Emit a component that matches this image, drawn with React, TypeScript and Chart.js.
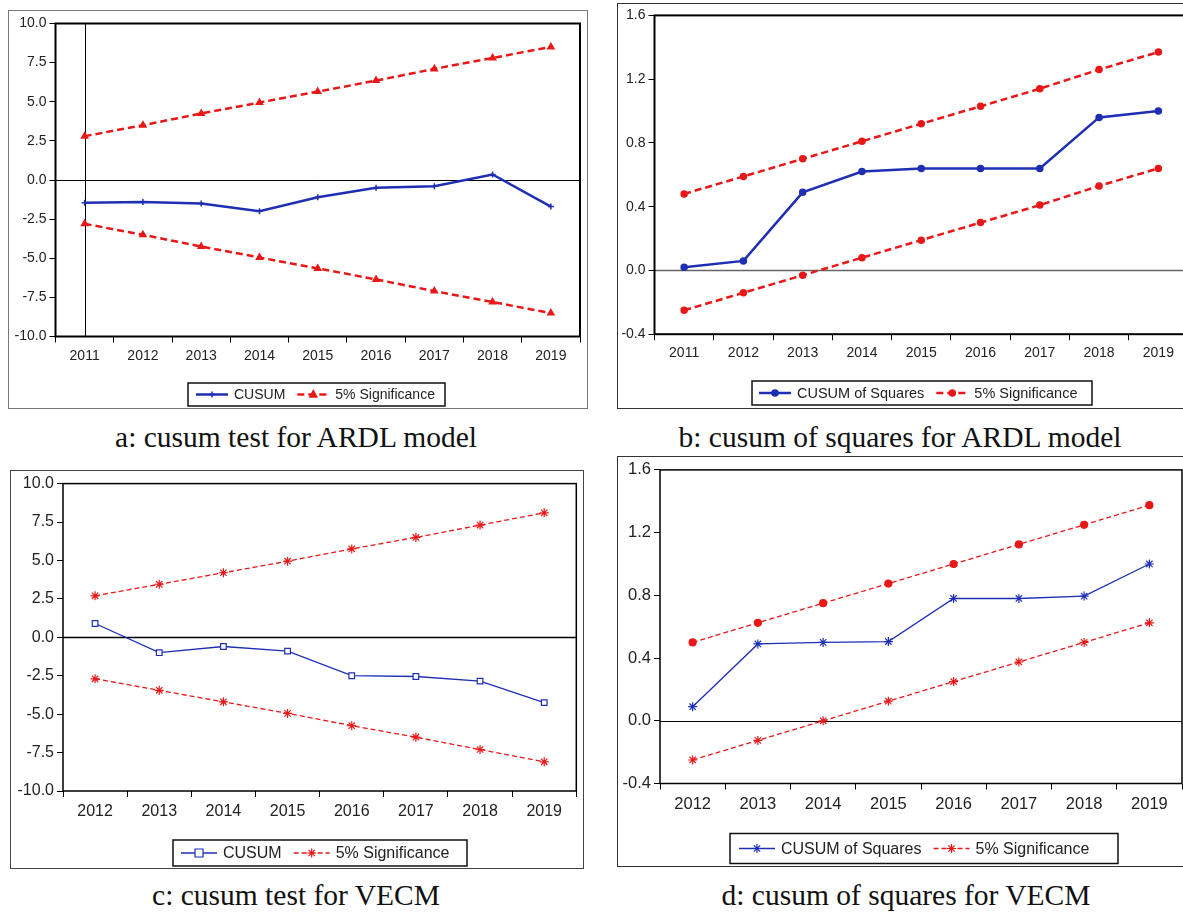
import React, { useEffect, useRef } from "react";
import { Chart, registerables } from "chart.js";
Chart.register(...registerables);

// ---------- data ----------
const yearsA = ["2011", "2012", "2013", "2014", "2015", "2016", "2017", "2018", "2019"];
const cusumA = [-1.45, -1.4, -1.5, -2.0, -1.1, -0.5, -0.4, 0.35, -1.7];
const sigUpA = [2.8, 3.5, 4.25, 4.95, 5.65, 6.35, 7.1, 7.8, 8.5];
const sigLoA = [-2.8, -3.5, -4.25, -4.95, -5.65, -6.35, -7.1, -7.8, -8.5];

const yearsB = ["2011", "2012", "2013", "2014", "2015", "2016", "2017", "2018", "2019"];
const cusumSqB = [0.02, 0.06, 0.49, 0.62, 0.64, 0.64, 0.64, 0.96, 1.0];
const sigUpB = [0.48, 0.59, 0.7, 0.81, 0.92, 1.03, 1.14, 1.26, 1.37];
const sigLoB = [-0.25, -0.14, -0.03, 0.08, 0.19, 0.3, 0.41, 0.53, 0.64];

const yearsC = ["2012", "2013", "2014", "2015", "2016", "2017", "2018", "2019"];
const cusumC = [0.9, -1.0, -0.6, -0.9, -2.5, -2.55, -2.85, -4.25];
const sigUpC = [2.7, 3.45, 4.2, 4.95, 5.75, 6.5, 7.3, 8.1];
const sigLoC = [-2.7, -3.45, -4.2, -4.95, -5.75, -6.5, -7.3, -8.1];

const yearsD = ["2012", "2013", "2014", "2015", "2016", "2017", "2018", "2019"];
const cusumSqD = [0.09, 0.49, 0.5, 0.505, 0.78, 0.78, 0.795, 1.0];
const sigUpD = [0.5, 0.625, 0.75, 0.875, 1.0, 1.125, 1.25, 1.375];
const sigLoD = [-0.25, -0.125, 0.0, 0.125, 0.25, 0.375, 0.5, 0.625];

const BLUE = "#1e2fb4";
const RED = "#e81818";
const SANS = "'Liberation Sans', Arial, sans-serif";

function drawMarker(ctx: CanvasRenderingContext2D, style: string, x: number, y: number, r: number, fill: string, stroke: string, lw: number) {
  ctx.save();
  ctx.setLineDash([]);
  ctx.fillStyle = fill;
  ctx.strokeStyle = stroke;
  ctx.lineWidth = lw;
  ctx.beginPath();
  if (style === "circle") {
    ctx.arc(x, y, r, 0, Math.PI * 2);
    ctx.fill();
    ctx.stroke();
  } else if (style === "triangle") {
    ctx.moveTo(x, y - r * 1.1);
    ctx.lineTo(x + r, y + r * 0.7);
    ctx.lineTo(x - r, y + r * 0.7);
    ctx.closePath();
    ctx.fill();
    ctx.stroke();
  } else if (style === "rect") {
    ctx.rect(x - r, y - r, 2 * r, 2 * r);
    ctx.fill();
    ctx.stroke();
  } else if (style === "star") {
    const d = r * 0.707;
    ctx.moveTo(x - r, y); ctx.lineTo(x + r, y);
    ctx.moveTo(x, y - r); ctx.lineTo(x, y + r);
    ctx.moveTo(x - d, y - d); ctx.lineTo(x + d, y + d);
    ctx.moveTo(x - d, y + d); ctx.lineTo(x + d, y - d);
    ctx.stroke();
  } else if (style === "cross") {
    ctx.moveTo(x - r, y); ctx.lineTo(x + r, y);
    ctx.moveTo(x, y - r); ctx.lineTo(x, y + r);
    ctx.stroke();
  }
  ctx.restore();
}

type LegendItem = { label: string; ds: number; marker: string; r: number; fill: string };
type PanelCfg = {
  frame: { left: number; top: number; width: number; height: number; color: string; bw: number };
  yWidth: number;
  padTop: number;
  padRight: number;
  xHeight: number;
  labels: string[];
  datasets: any[];
  yMin: number;
  yMax: number;
  yStep: number;
  fontSize: number;
  plotBorder: number;
  zeroColor: string;
  zeroWidth: number;
  vline?: number;
  legend: { x: number; y: number; w: number; h: number; font: number; items: LegendItem[]; padX: number; sample: number };
};

function Panel({ cfg }: { cfg: PanelCfg }) {
  const ref = useRef<HTMLCanvasElement | null>(null);
  useEffect(() => {
    if (!ref.current) return;
    const overlay = {
      id: "overlay",
      beforeDatasetsDraw(chart: any) {
        const { ctx, chartArea, scales } = chart;
        ctx.save();
        const y0 = Math.round(scales.y.getPixelForValue(0)) + 0.5;
        ctx.strokeStyle = cfg.zeroColor;
        ctx.lineWidth = cfg.zeroWidth;
        ctx.beginPath();
        ctx.moveTo(chartArea.left, y0);
        ctx.lineTo(chartArea.right, y0);
        ctx.stroke();
        if (cfg.vline !== undefined) {
          const xv = Math.round(scales.x.getPixelForValue(cfg.vline)) + 0.5;
          ctx.strokeStyle = "#000";
          ctx.lineWidth = 1;
          ctx.beginPath();
          ctx.moveTo(xv, chartArea.top);
          ctx.lineTo(xv, chartArea.bottom);
          ctx.stroke();
        }
        ctx.restore();
      },
      afterDraw(chart: any) {
        const { ctx, chartArea } = chart;
        ctx.save();
        ctx.strokeStyle = "#000";
        ctx.lineWidth = cfg.plotBorder;
        ctx.strokeRect(chartArea.left, chartArea.top, chartArea.right - chartArea.left, chartArea.bottom - chartArea.top);
        // boxed legend
        const L = cfg.legend;
        ctx.strokeStyle = "#111";
        ctx.lineWidth = 1.5;
        ctx.strokeRect(L.x, L.y, L.w, L.h);
        let x = L.x + L.padX;
        const cy = L.y + L.h / 2;
        ctx.font = `${L.font}px ${SANS}`;
        ctx.textBaseline = "middle";
        for (const it of L.items) {
          const ds = chart.data.datasets[it.ds];
          ctx.strokeStyle = ds.borderColor;
          ctx.lineWidth = ds.borderWidth;
          ctx.setLineDash(ds.borderDash || []);
          ctx.beginPath();
          ctx.moveTo(x, cy);
          ctx.lineTo(x + L.sample, cy);
          ctx.stroke();
          ctx.setLineDash([]);
          drawMarker(ctx, it.marker, x + L.sample / 2, cy, it.r, it.fill, ds.borderColor, ds.pointBorderWidth || 1.5);
          x += L.sample + 6;
          ctx.fillStyle = "#222";
          ctx.fillText(it.label, x, cy + 1);
          x += ctx.measureText(it.label).width + 12;
        }
        ctx.restore();
      },
    };
    const chart = new Chart(ref.current, {
      type: "line",
      data: { labels: cfg.labels, datasets: cfg.datasets },
      plugins: [overlay],
      options: {
        animation: false,
        responsive: false,
        maintainAspectRatio: false,
        devicePixelRatio: 1,
        layout: { padding: { top: cfg.padTop, right: cfg.padRight, left: 0, bottom: 0 } },
        plugins: { legend: { display: false }, tooltip: { enabled: false } },
        elements: { line: { tension: 0, fill: false } },
        scales: {
          x: {
            type: "category",
            offset: true,
            grid: { offset: true, drawOnChartArea: false, drawTicks: true, tickLength: 6, color: "#000", lineWidth: 1 },
            border: { display: false },
            ticks: { color: "#222", font: { family: SANS, size: cfg.fontSize }, padding: 5, maxRotation: 0, autoSkip: false },
            afterFit: (s: any) => { s.height = cfg.xHeight; },
          },
          y: {
            min: cfg.yMin,
            max: cfg.yMax,
            ticks: { stepSize: cfg.yStep, color: "#222", font: { family: SANS, size: cfg.fontSize }, padding: 3, callback: (v: any) => Number(v).toFixed(1) },
            grid: { drawOnChartArea: false, drawTicks: true, tickLength: 6, color: "#000", lineWidth: 1 },
            border: { display: false },
            afterFit: (s: any) => { s.width = cfg.yWidth; },
          },
        },
      } as any,
    });
    return () => chart.destroy();
  }, [cfg]);
  const f = cfg.frame;
  return (
    <div style={{ position: "absolute", left: f.left, top: f.top, width: f.width, height: f.height, boxSizing: "border-box", border: `${f.bw}px solid ${f.color}` }}>
      <canvas ref={ref} width={f.width - 2 * f.bw} height={f.height - 2 * f.bw} style={{ position: "absolute", left: 0, top: 0 }} />
    </div>
  );
}

const thick = (data: number[], color: string, style: string, r: number, dash?: number[]) => ({
  data, borderColor: color, backgroundColor: color, borderWidth: 2.5, borderDash: dash || [],
  pointStyle: style, pointRadius: r, pointBackgroundColor: color, pointBorderColor: color, pointBorderWidth: 1.5,
});
const thin = (data: number[], color: string, style: string, r: number, fill: string, dash?: number[]) => ({
  data, borderColor: color, backgroundColor: fill, borderWidth: 1.3, borderDash: dash || [],
  pointStyle: style, pointRadius: r, pointBackgroundColor: fill, pointBorderColor: color, pointBorderWidth: 1.2,
});

const cfgA: PanelCfg = {
  frame: { left: 8, top: 10, width: 580, height: 399, color: "#777", bw: 1.5 },
  yWidth: 46.5, padTop: 12.5, padRight: 6, xHeight: 70.5,
  labels: yearsA,
  datasets: [
    thick(cusumA, BLUE, "cross", 3),
    thick(sigUpA, RED, "triangle", 3.5, [7, 4]),
    thick(sigLoA, RED, "triangle", 3.5, [7, 4]),
  ],
  yMin: -10, yMax: 10, yStep: 2.5, fontSize: 14, plotBorder: 2, zeroColor: "#000", zeroWidth: 1, vline: 0,
  legend: { x: 179, y: 372, w: 257, h: 23, font: 14, padX: 8, sample: 32, items: [
    { label: "CUSUM", ds: 0, marker: "cross", r: 3, fill: BLUE },
    { label: "5% Significance", ds: 1, marker: "triangle", r: 3.5, fill: RED },
  ] },
};

const cfgB: PanelCfg = {
  frame: { left: 617, top: 3, width: 600, height: 406, color: "#333", bw: 1.5 },
  yWidth: 36.5, padTop: 11, padRight: 27, xHeight: 72.8,
  labels: yearsB,
  datasets: [
    thick(cusumSqB, BLUE, "circle", 3),
    thick(sigUpB, RED, "circle", 3, [7, 4]),
    thick(sigLoB, RED, "circle", 3, [7, 4]),
  ],
  yMin: -0.4, yMax: 1.6, yStep: 0.4, fontSize: 14, plotBorder: 2, zeroColor: "#666", zeroWidth: 1.5,
  legend: { x: 134, y: 377, w: 340, h: 24, font: 14.5, padX: 7, sample: 32, items: [
    { label: "CUSUM of Squares", ds: 0, marker: "circle", r: 3, fill: BLUE },
    { label: "5% Significance", ds: 1, marker: "circle", r: 3, fill: RED },
  ] },
};

const cfgC: PanelCfg = {
  frame: { left: 10, top: 470, width: 574, height: 399, color: "#444", bw: 1.5 },
  yWidth: 52, padTop: 10, padRight: 3, xHeight: 76,
  labels: yearsC,
  datasets: [
    thin(cusumC, BLUE, "rect", 4, "#fff"),
    thin(sigUpC, RED, "star", 4.5, RED, [5, 3]),
    thin(sigLoC, RED, "star", 4.5, RED, [5, 3]),
  ],
  yMin: -10, yMax: 10, yStep: 2.5, fontSize: 16, plotBorder: 1.5, zeroColor: "#000", zeroWidth: 1.5,
  legend: { x: 162, y: 369, w: 294, h: 26, font: 16, padX: 8, sample: 36, items: [
    { label: "CUSUM", ds: 0, marker: "rect", r: 4, fill: "#fff" },
    { label: "5% Significance", ds: 1, marker: "star", r: 4.5, fill: RED },
  ] },
};

const cfgD: PanelCfg = {
  frame: { left: 617, top: 456, width: 600, height: 411, color: "#333", bw: 1.5 },
  yWidth: 42, padTop: 11.8, padRight: 33, xHeight: 81.5,
  labels: yearsD,
  datasets: [
    thin(cusumSqD, BLUE, "star", 4.5, BLUE),
    thin(sigUpD, RED, "circle", 3.5, RED, [5, 3]),
    thin(sigLoD, RED, "star", 4.5, RED, [5, 3]),
  ],
  yMin: -0.4, yMax: 1.6, yStep: 0.4, fontSize: 16.5, plotBorder: 1.5, zeroColor: "#000", zeroWidth: 1,
  legend: { x: 112, y: 376.5, w: 388, h: 30, font: 16, padX: 9, sample: 36, items: [
    { label: "CUSUM of Squares", ds: 0, marker: "star", r: 4.5, fill: BLUE },
    { label: "5% Significance", ds: 2, marker: "star", r: 4.5, fill: RED },
  ] },
};

const captionStyle = (cx: number, cy: number): React.CSSProperties => ({
  position: "absolute", left: cx - 300, top: cy - 18, width: 600, height: 36, lineHeight: "36px",
  textAlign: "center", fontFamily: "'Liberation Serif', 'DejaVu Serif', serif", fontSize: 29.5, color: "#111", whiteSpace: "nowrap",
});

export default function App() {
  return (
    <div style={{ position: "absolute", left: 0, top: 0, width: 1183, height: 912, overflow: "hidden", background: "#fff" }}>
      <Panel cfg={cfgA} />
      <Panel cfg={cfgB} />
      <Panel cfg={cfgC} />
      <Panel cfg={cfgD} />
      <div style={captionStyle(296, 437)}>a: cusum test for ARDL model</div>
      <div style={captionStyle(900, 437)}>b: cusum of squares for ARDL model</div>
      <div style={captionStyle(296, 895)}>c: cusum test for VECM</div>
      <div style={captionStyle(906, 895)}>d: cusum of squares for VECM</div>
    </div>
  );
}
